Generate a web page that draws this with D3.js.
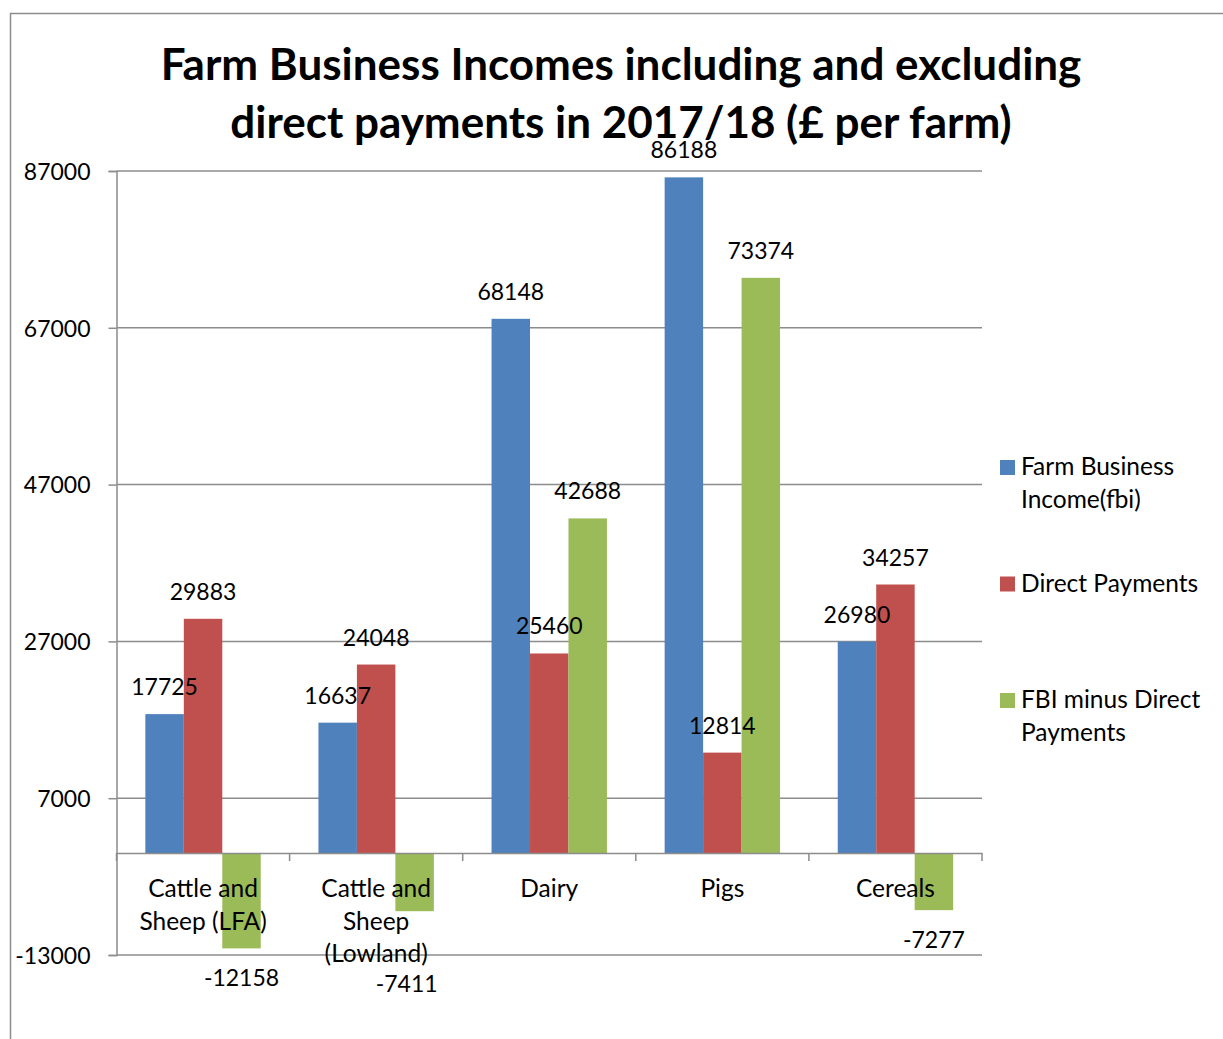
<!DOCTYPE html>
<html>
<head>
<meta charset="utf-8">
<script src="https://cdn.jsdelivr.net/npm/d3@7"></script>
<style>
  html, body { margin: 0; padding: 0; background: #fff; }
  svg { display: block; }
  text { font-family: Lato, "Open Sans", sans-serif; fill: #000; }
</style>
</head>
<body>
<svg id="chart" width="1223" height="1039"></svg>
<script>
// chart data
const categories = [["Cattle and", "Sheep (LFA)"], ["Cattle and", "Sheep", "(Lowland)"], ["Dairy"], ["Pigs"], ["Cereals"]];
const seriesNames = [["Farm Business", "Income(fbi)"], ["Direct Payments"], ["FBI minus Direct", "Payments"]];
const fbi = [17725, 16637, 68148, 86188, 26980];
const directPayments = [29883, 24048, 25460, 12814, 34257];
const fbiMinusDp = [-12158, -7411, 42688, 73374, -7277];
const yTicks = [-13000, 7000, 27000, 47000, 67000, 87000];
const colors = ["#4F81BD", "#C0504D", "#9BBB59"];

const series = [fbi, directPayments, fbiMinusDp];

const svg = d3.select("#chart");
const numSize = 23, textSize = 24.5;

// outer frame of the chart
svg.append("rect")
    .attr("x", 10.5).attr("y", 13.5)
    .attr("width", 1300).attr("height", 1100)
    .attr("fill", "none").attr("stroke", "#8c8c8c").attr("stroke-width", 1.5);

// title
const title = svg.append("text")
    .attr("text-anchor", "middle")
    .attr("font-weight", "bold")
    .attr("font-size", 44);
title.append("tspan").attr("x", 621).attr("y", 80)
    .text("Farm Business Incomes including and excluding");
title.append("tspan").attr("x", 621).attr("y", 138)
    .text("direct payments in 2017/18 (\u00a3 per farm)");

const left = 116.5, right = 982;
const y = d3.scaleLinear().domain([-13000, 87000]).range([955, 171]);

const x0 = d3.scaleBand().domain(d3.range(categories.length)).range([left, right]).padding(0);
const bw = x0.bandwidth();
const x1 = d3.scaleBand().domain(d3.range(series.length)).range([bw / 6, bw * 5 / 6]).padding(0);

// gridlines + y axis ticks
const yAxis = d3.axisLeft(y).tickValues(yTicks).tickSize(8).tickPadding(18).tickFormat(d => String(d));
const gy = svg.append("g").attr("transform", `translate(${left},0)`).call(yAxis);
gy.select(".domain").attr("stroke", "#8c8c8c").attr("stroke-width", 1.5);
gy.selectAll(".tick line").attr("stroke", "#8c8c8c").attr("stroke-width", 1.5);
gy.selectAll(".tick text").attr("font-size", numSize).attr("font-family", "Lato").attr("fill", "#000").attr("dy", "0.36em");

svg.append("g").selectAll("line")
    .data(yTicks)
    .join("line")
    .attr("x1", left).attr("x2", right)
    .attr("y1", d => y(d)).attr("y2", d => y(d))
    .attr("stroke", "#8c8c8c").attr("stroke-width", 1.5);

// bars
const groups = svg.append("g").selectAll("g")
    .data(categories.map((c, i) => i))
    .join("g")
    .attr("transform", i => `translate(${x0(i)},0)`);

groups.selectAll("rect")
    .data(i => series.map((s, k) => ({ k, v: s[i] })))
    .join("rect")
    .attr("x", d => x1(d.k))
    .attr("width", x1.bandwidth())
    .attr("y", d => y(Math.max(0, d.v)))
    .attr("height", d => Math.abs(y(d.v) - y(0)))
    .attr("fill", d => colors[d.k]);

// category axis at zero
const xAxis = d3.axisBottom(x0).tickSize(0).tickFormat("");
const gx = svg.append("g").attr("transform", `translate(0,${y(0)})`).call(xAxis);
gx.select(".domain").attr("stroke", "#8c8c8c").attr("stroke-width", 1.5);
svg.append("g").selectAll("line")
    .data(d3.range(categories.length + 1))
    .join("line")
    .attr("x1", i => left + i * bw).attr("x2", i => left + i * bw)
    .attr("y1", y(0)).attr("y2", y(0) + 8)
    .attr("stroke", "#8c8c8c").attr("stroke-width", 1.5);

// category labels
const catTop = 897, catLine = 32.5;
svg.append("g").selectAll("text")
    .data(categories)
    .join("text")
    .attr("text-anchor", "middle")
    .attr("font-size", textSize)
    .each(function (lines, i) {
        d3.select(this).selectAll("tspan")
            .data(lines)
            .join("tspan")
            .attr("x", x0(i) + bw / 2)
            .attr("y", (d, j) => catTop + j * catLine)
            .text(d => d);
    });

// data labels (negative ones pushed below a long category label, as Excel does)
function labelY(d, i) {
    if (d.v >= 0) return y(d.v) - 19;
    const below = catTop + (categories[i].length - 1) * catLine + 30;
    return Math.max(y(d.v) + 38, below);
}
groups.selectAll("text.val")
    .data(i => series.map((s, k) => ({ k, v: s[i], i })))
    .join("text")
    .attr("class", "val")
    .attr("text-anchor", "middle")
    .attr("font-size", numSize)
    .attr("x", d => {
        const cx = x1(d.k) + x1.bandwidth() / 2;
        return d.v < 0 && labelY(d, d.i) > y(d.v) + 38 ? cx - 8 : cx;
    })
    .attr("y", d => labelY(d, d.i))
    .text(d => d.v);

// legend
const legendY = [475, 591.5, 708];
const leg = svg.append("g").selectAll("g")
    .data(seriesNames)
    .join("g")
    .attr("transform", (d, i) => `translate(1000,${legendY[i]})`);
leg.append("rect")
    .attr("x", 0).attr("y", -15)
    .attr("width", 15).attr("height", 15)
    .attr("fill", (d, i) => colors[i]);
leg.append("text")
    .attr("font-size", textSize)
    .selectAll("tspan")
    .data(d => d)
    .join("tspan")
    .attr("x", 21)
    .attr("y", (d, j) => j * 33)
    .text(d => d);
</script>
</body>
</html>
